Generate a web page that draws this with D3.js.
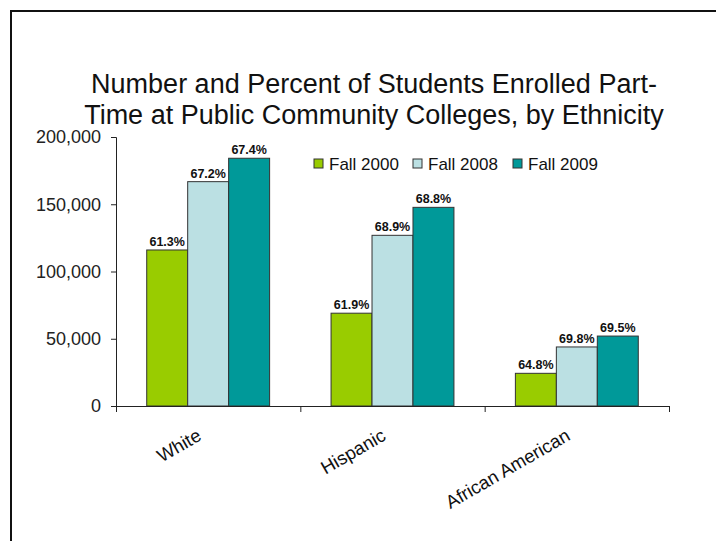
<!DOCTYPE html>
<html>
<head>
<meta charset="utf-8">
<script src="https://cdn.jsdelivr.net/npm/d3@7"></script>
<style>
  body { margin: 0; background: #fff; }
  svg { display: block; font-family: "Liberation Sans", Arial, sans-serif; }
</style>
</head>
<body>
<svg id="chart" width="716" height="541"></svg>
<script>
// data
const categories = ["White", "Hispanic", "African American"];
const series = ["Fall 2000", "Fall 2008", "Fall 2009"];
const fall2000 = [116000, 69000, 24300];
const fall2008 = [166800, 126900, 43900];
const fall2009 = [184200, 147700, 52000];
const pct2000 = ["61.3%", "61.9%", "64.8%"];
const pct2008 = ["67.2%", "68.9%", "69.8%"];
const pct2009 = ["67.4%", "68.8%", "69.5%"];
const yTicks = [0, 50000, 100000, 150000, 200000];
const colors = ["#99cc00", "#bbe0e3", "#009999"];

const svg = d3.select("#chart");

// frame round the slide, runs off right and bottom
svg.append("rect")
    .attr("x", 11).attr("y", 11)
    .attr("width", 740).attr("height", 560)
    .attr("fill", "none").attr("stroke", "#111").attr("stroke-width", 2);

// title
const title = svg.append("text")
    .attr("text-anchor", "middle")
    .attr("font-size", 27)
    .attr("fill", "#111");
title.append("tspan").attr("x", 374).attr("y", 93).text("Number and Percent of Students Enrolled Part-");
title.append("tspan").attr("x", 374).attr("y", 124).text("Time at Public Community Colleges, by Ethnicity");

// scales
const x = d3.scaleBand().domain(categories).range([116, 669]).paddingInner(0).paddingOuter(0);
const xs = d3.scaleBand().domain(series).range([0, x.bandwidth()]).paddingInner(0).paddingOuter(0.75);
const y = d3.scaleLinear().domain([0, 200000]).range([406, 137]);

// rows for drawing
const vals = [fall2000, fall2008, fall2009];
const pcts = [pct2000, pct2008, pct2009];
const rows = [];
categories.forEach((c, i) => {
    series.forEach((s, j) => {
        rows.push({cat: c, ser: s, value: vals[j][i], pct: pcts[j][i], color: colors[j]});
    });
});

// bars
svg.append("g").selectAll("rect")
    .data(rows)
    .enter()
    .append("rect")
        .attr("x", d => x(d.cat) + xs(d.ser))
        .attr("y", d => y(d.value))
        .attr("width", xs.bandwidth())
        .attr("height", d => y(0) - y(d.value))
        .attr("fill", d => d.color)
        .attr("stroke", "#333")
        .attr("stroke-width", 1);

// percent labels
svg.append("g").selectAll("text")
    .data(rows)
    .enter()
    .append("text")
        .attr("x", d => x(d.cat) + xs(d.ser) + xs.bandwidth() / 2)
        .attr("y", d => y(d.value) - 4)
        .attr("text-anchor", "middle")
        .attr("font-size", 12.5)
        .attr("font-weight", "bold")
        .attr("fill", "#111")
        .text(d => d.pct);

// y axis
const yAxis = d3.axisLeft(y).tickValues(yTicks).tickSize(5).tickPadding(10).tickFormat(d3.format(","));
const gy = svg.append("g")
    .attr("transform", "translate(116,0)")
    .call(yAxis);
gy.selectAll("text").attr("font-size", 18).attr("fill", "#222");
gy.selectAll("line, path").attr("stroke", "#222");

// x axis: ticks on the band edges
const xEdge = d3.scaleLinear().domain([0, categories.length]).range([116, 669]);
const gx = svg.append("g")
    .attr("transform", "translate(0,406)")
    .call(d3.axisBottom(xEdge).tickValues(d3.range(categories.length + 1)).tickSize(6).tickSizeOuter(0).tickFormat(""));
gx.selectAll("line, path").attr("stroke", "#222");

// category labels, slanted
svg.append("g").selectAll("text")
    .data(categories)
    .enter()
    .append("text")
        .attr("transform", d => "translate(" + (x(d) + x.bandwidth() / 2 - 12) + ",428) rotate(-30)")
        .attr("text-anchor", "end")
        .attr("dy", "0.7em")
        .attr("font-size", 18.5)
        .attr("fill", "#111")
        .text(d => d);

// legend
const legend = svg.append("g").selectAll("g")
    .data(series)
    .enter()
    .append("g")
        .attr("transform", (d, i) => "translate(" + [314, 413, 513][i] + ",159)");
legend.append("rect")
    .attr("width", 9).attr("height", 9)
    .attr("fill", (d, i) => colors[i])
    .attr("stroke", "#333");
legend.append("text")
    .attr("x", 15).attr("y", 11)
    .attr("font-size", 17)
    .attr("fill", "#111")
    .text(d => d);
</script>
</body>
</html>
